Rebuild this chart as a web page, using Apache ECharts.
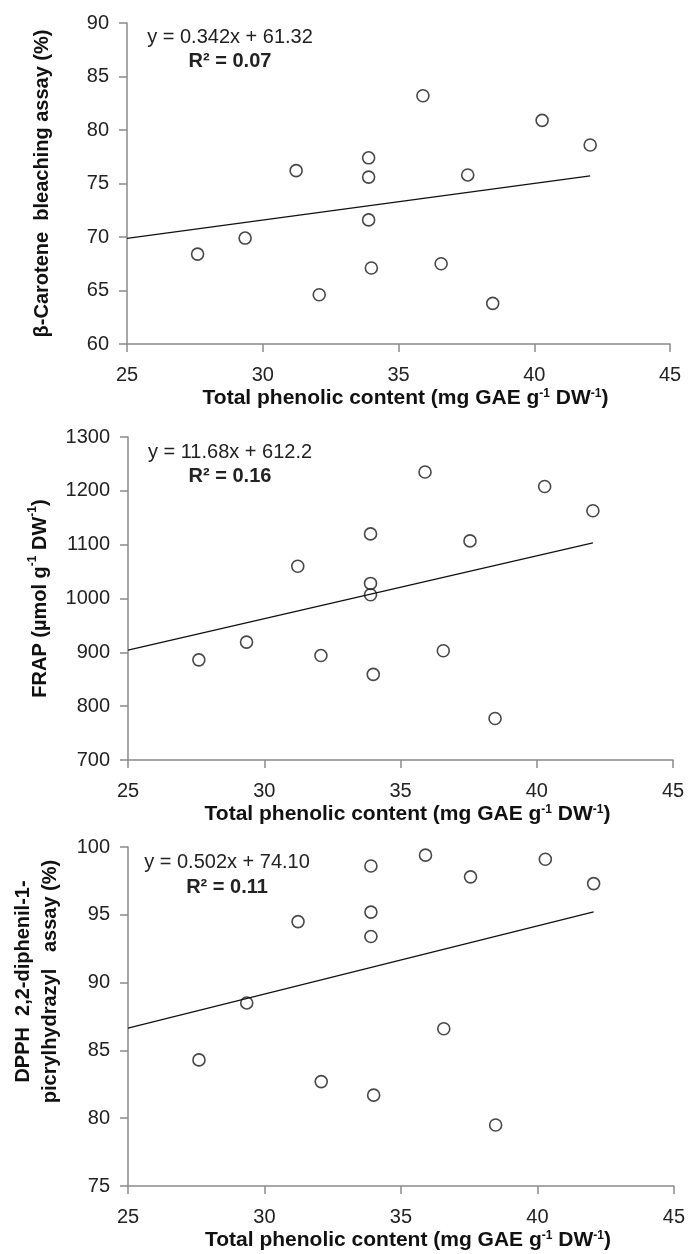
<!DOCTYPE html>
<html>
<head>
<meta charset="utf-8">
<script src="https://cdn.jsdelivr.net/npm/echarts@6/dist/echarts.min.js"></script>
<style>
html, body { margin: 0; padding: 0; background: #fff; }
#chart { width: 688px; height: 1254px; }
</style>
</head>
<body>
<div id="chart"></div>
<script>
// shared x values (total phenolic content)
var phenolic = [27.6, 29.35, 31.23, 32.08, 33.9, 33.9, 33.9, 34.0, 35.9, 36.57, 37.55, 38.47, 40.29, 42.06];
// y values, one array per panel, same order as phenolic
var carotene = [68.4, 69.9, 76.2, 64.6, 77.4, 75.6, 71.6, 67.1, 83.2, 67.5, 75.8, 63.8, 80.9, 78.6];
var frap = [886, 919, 1060, 894, 1120, 1028, 1007, 859, 1235, 903, 1107, 777, 1208, 1163];
var dpph = [84.3, 88.5, 94.5, 82.7, 98.6, 95.2, 93.4, 81.7, 99.4, 86.6, 97.8, 79.5, 99.1, 97.3];

var xMin = 25, xMax = 45, xStep = 5;
var yMin = [60, 700, 75];
var yMax = [90, 1300, 100];
var yStep = [5, 100, 5];

// regression lines as printed in the figure
var slopes = [0.342, 11.68, 0.502];
var intercepts = [61.32, 612.2, 74.10];
var eqLabels = ['y = 0.342x + 61.32', 'y = 11.68x + 612.2', 'y = 0.502x + 74.10'];
var r2Labels = ['R² = 0.07', 'R² = 0.16', 'R² = 0.11'];

var xName = 'Total phenolic content (mg GAE g{sup|-1} DW{sup|-1})';
var yNames = [
	'β-Carotene  bleaching assay (%)',
	'FRAP (µmol g{sup|-1} DW{sup|-1})',
	'DPPH  2,2-diphenil-1-\npicrylhydrazyl   assay (%)'
];

var FONT = 'Liberation Sans, Arial, sans-serif';
var supStyle = { fontSize: 12, fontWeight: 'bold', fontFamily: FONT, color: '#111', verticalAlign: 'top', lineHeight: 14 };

var grids = [
	{ left: 127, top: 23, width: 543, height: 321 },
	{ left: 128, top: 437, width: 545, height: 323 },
	{ left: 128, top: 847, width: 547, height: 339 }
];
var yGaps = [71, 74, 64];
var yPads = [[0, 0, 0, 0], [0, 0, 0, 0], [0, 0, 0, 70]];
var eqPos = [[230, 37, 61], [230, 452, 476], [227, 862, 887]];

var allY = [carotene, frap, dpph];

function pairs(xs, ys) {
	var out = [];
	for (var i = 0; i < xs.length; i++) out.push([xs[i], ys[i]]);
	return out;
}

var myChart = echarts.init(document.getElementById('chart'), null, { renderer: 'canvas' });

var xAxes = [], yAxes = [], series = [], graphics = [];
var xLast = Math.max.apply(null, phenolic);

for (var k = 0; k < 3; k++) {
	xAxes.push({
		gridIndex: k,
		type: 'value',
		min: xMin, max: xMax, interval: xStep,
		name: xName,
		nameLocation: 'middle',
		nameGap: 44,
		nameTextStyle: { fontSize: 21, fontWeight: 'bold', fontFamily: FONT, color: '#111', padding: [0, 0, 0, 14], rich: { sup: supStyle } },
		axisLine: { onZero: false, lineStyle: { color: '#8a8a8a', width: 1.5 } },
		axisTick: { length: 8, lineStyle: { color: '#8a8a8a', width: 1.5 } },
		axisLabel: { fontSize: 20, fontFamily: FONT, color: '#222', margin: 21 },
		splitLine: { show: false }
	});
	yAxes.push({
		gridIndex: k,
		type: 'value',
		min: yMin[k], max: yMax[k], interval: yStep[k],
		name: yNames[k],
		nameLocation: 'middle',
		nameGap: yGaps[k],
		nameTextStyle: { fontSize: 20, fontWeight: 'bold', fontFamily: FONT, color: '#111', lineHeight: 27, padding: yPads[k], rich: { sup: supStyle } },
		axisLine: { show: true, onZero: false, lineStyle: { color: '#8a8a8a', width: 1.5 } },
		axisTick: { show: true, length: 8, lineStyle: { color: '#8a8a8a', width: 1.5 } },
		axisLabel: { fontSize: 20, fontFamily: FONT, color: '#222', margin: 18, formatter: function (v) { return String(v); } },
		splitLine: { show: false }
	});
	series.push({
		type: 'line',
		xAxisIndex: k, yAxisIndex: k,
		data: [[xMin, slopes[k] * xMin + intercepts[k]], [xLast, slopes[k] * xLast + intercepts[k]]],
		symbol: 'none',
		lineStyle: { color: '#111', width: 1.3 },
		silent: true
	});
	series.push({
		type: 'scatter',
		xAxisIndex: k, yAxisIndex: k,
		data: pairs(phenolic, allY[k]),
		symbol: 'circle',
		symbolSize: 12,
		itemStyle: { color: 'rgba(255,255,255,0)', borderColor: '#1a1a1a', borderWidth: 1.6 }
	});
	graphics.push({
		type: 'text', x: eqPos[k][0], y: eqPos[k][1],
		style: { text: eqLabels[k], font: '20px ' + FONT, fill: '#222', textAlign: 'center', textVerticalAlign: 'middle', align: 'center', verticalAlign: 'middle' }
	});
	graphics.push({
		type: 'text', x: eqPos[k][0], y: eqPos[k][2],
		style: { text: r2Labels[k], font: 'bold 20px ' + FONT, fill: '#222', textAlign: 'center', textVerticalAlign: 'middle', align: 'center', verticalAlign: 'middle' }
	});
}

var option = {
	animation: false,
	backgroundColor: '#fff',
	grid: grids,
	xAxis: xAxes,
	yAxis: yAxes,
	series: series,
	graphic: graphics
};
myChart.setOption(option);
</script>
</body>
</html>
